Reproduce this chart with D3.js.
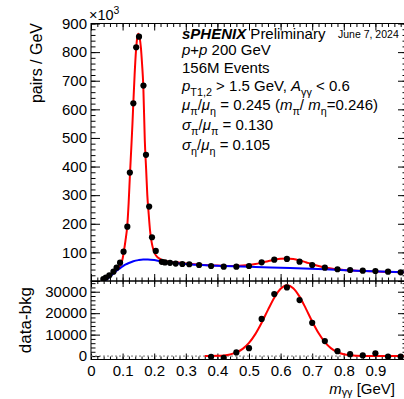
<!DOCTYPE html>
<html><head><meta charset="utf-8">
<script src="https://cdn.jsdelivr.net/npm/d3@7"></script>
<style>body{margin:0;background:#fff}svg text{font-family:"Liberation Sans",Arial,Helvetica,sans-serif}</style>
</head><body><svg id="c" width="404" height="399"></svg>
<script>
// ---------------- data ----------------
// top panel: pairs / GeV in units of 10^3
const massTop = [0.039,0.047,0.058,0.071,0.081,0.092,0.103,0.115,0.123,0.134,0.143,0.152,0.166,0.174,0.184,0.193,0.205,0.224,0.234,0.250,0.268,0.289,0.311,0.342,0.38,0.42,0.46,0.50,0.54,0.58,0.62,0.66,0.70,0.74,0.78,0.82,0.86,0.90,0.94,0.98];
const pairsTop = [7,11.5,20,32.5,46.5,64,102.5,190,379,621,817,854,683,441,260,153,105,67,65,63.5,61,59.5,58.5,56,52.5,50,50,52.5,65.4,74.5,77,67.5,56,46.5,41,38.5,36,35,32.5,30.4];
// background fit (blue)
const bkgMass = [0.042,0.05,0.06,0.07,0.08,0.09,0.10,0.11,0.12,0.134,0.15,0.165,0.18,0.20,0.22,0.26,0.30,0.35,0.42,0.52,0.63,0.74,0.84,0.99];
const bkgValue = [0,6,15,25,35,43,51,58,63,69,73,75,75,73,69,64,59.5,56,52.5,49,45.5,41,36,30.5];
// total fit (red), top panel
const fitTopMass = [0.075,0.08,0.085,0.09,0.095,0.100,0.1035,0.109,0.1149,0.119,0.1234,0.1275,0.131,0.1339,0.138,0.1424,0.146,0.1497,0.154,0.158,0.1615,0.1655,0.1703,0.1745,0.1782,0.1825,0.1867,0.192,0.1972,0.2025,0.2079,0.2158,0.2237,0.235,0.25,0.27,0.30,0.33,0.345,0.36,0.40,0.44,0.46,0.48,0.50,0.52,0.54,0.56,0.58,0.60,0.62,0.64,0.66,0.68,0.70,0.72,0.74,0.76,0.78,0.80,0.82,0.84,0.88,0.92,0.99];
const fitTopValue = [30,36,41,48,60,78,100,140,195,270,375,465,545,621,720,805,848,864,850,815,760,682,490,390,300,235,178,135,110,95,86,79,74,70,66.5,65.5,61.5,58.5,57,55.5,54,52.8,52.8,53.8,55.9,59.2,63.9,69.2,74.3,77.9,78.8,76.8,72.0,65.6,58.7,52.5,47.5,43.6,40.8,38.8,37.4,36.1,34.3,32.7,30.5];
// bottom panel: data - bkg
const massBottom = [0.38,0.42,0.46,0.50,0.54,0.58,0.62,0.66,0.70,0.74,0.78,0.82,0.86,0.90,0.94,0.98];
const diffBottom = [-330,-800,1700,3700,17300,28900,32000,26100,15500,7000,2300,900,300,1300,-300,-300];
// eta fit (red), bottom panel
const fitBotMass = [0.36,0.38,0.40,0.42,0.44,0.46,0.48,0.50,0.52,0.54,0.56,0.58,0.60,0.62,0.64,0.66,0.68,0.70,0.72,0.74,0.76,0.78,0.80,0.82,0.84,0.86,0.88,0.90,0.99];
const fitBotValue = [13,42,122,320,768,1684,3373,6150,10235,15545,21530,27210,31370,33000,31660,27710,22130,16120,10715,6500,3590,1815,836,350,134,47,15,5,0];
// ticks
const xTickValues = [0,0.1,0.2,0.3,0.4,0.5,0.6,0.7,0.8,0.9,1.0];
const xTickLabels = ["0","0.1","0.2","0.3","0.4","0.5","0.6","0.7","0.8","0.9",""];
const yTopTickValues = [0,100,200,300,400,500,600,700,800,900];
const yTopTickLabels = ["","100","200","300","400","500","600","700","800","900"];
const yBotTickValues = [0,10000,20000,30000];
const yBotTickLabels = ["0","10000","20000","30000"];

// ---------------- layout ----------------
const svg = d3.select("#c");
const X0 = 91, X1 = 407, YT = 23.5, YM = 281, YB = 359.5;
const x = d3.scaleLinear().domain([0,1]).range([X0,X1]);
const yTop = d3.scaleLinear().domain([0,900]).range([YM,YT]);
const yBot = d3.scaleLinear().domain([-1600,35000]).range([YB,YM]);
const FONT = '"Liberation Sans",Arial,Helvetica,sans-serif';

const defs = svg.append("defs");
defs.append("clipPath").attr("id","clipTop").append("rect").attr("x",X0).attr("y",YT).attr("width",X1-X0).attr("height",YM-YT);
defs.append("clipPath").attr("id","clipBot").append("rect").attr("x",X0).attr("y",YM).attr("width",X1-X0).attr("height",YB-YM);

// frames
svg.append("rect").attr("x",X0).attr("y",YT).attr("width",X1-X0).attr("height",YM-YT).attr("fill","none").attr("stroke","#000");
svg.append("rect").attr("x",X0).attr("y",YM).attr("width",X1-X0).attr("height",YB-YM).attr("fill","none").attr("stroke","#000");

function fmtFrom(values, labels){ return d => { const i = values.findIndex(v => Math.abs(v-d) < 1e-9); return i>=0 ? labels[i] : ""; }; }
function drawTicks(mk, scale, transform, majors, minors, majLen, minLen, fmt, pad){
  const gMin = svg.append("g").attr("transform",transform)
    .call(mk(scale).tickValues(minors).tickSize(-minLen).tickFormat(""));
  const gMaj = svg.append("g").attr("transform",transform)
    .call(mk(scale).tickValues(majors).tickSize(-majLen).tickPadding(pad||0).tickFormat(fmt || (()=>"")));
  [gMin,gMaj].forEach(g => { g.select(".domain").remove(); g.selectAll("line").attr("stroke","#000"); g.attr("font-family",FONT).attr("font-size",15); g.selectAll("text").attr("fill","#000"); });
}
const xMinor = d3.range(0,51).map(i => i/50);
const yTopMinor = d3.range(0,46).map(i => i*20);
const yBotMinor = d3.range(0,18).map(i => i*2000);

// top panel ticks
drawTicks(d3.axisLeft, yTop, `translate(${X0},0)`, yTopTickValues, yTopMinor, 9, 4.5, fmtFrom(yTopTickValues,yTopTickLabels), 4);
drawTicks(d3.axisRight, yTop, `translate(${X1},0)`, yTopTickValues, yTopMinor, 9, 4.5);
drawTicks(d3.axisBottom, x, `translate(0,${YM})`, xTickValues, xMinor, 7, 3.5);
drawTicks(d3.axisTop, x, `translate(0,${YT})`, xTickValues, xMinor, 7, 3.5);
// bottom panel ticks
drawTicks(d3.axisLeft, yBot, `translate(${X0},0)`, yBotTickValues, yBotMinor, 9, 4.5, fmtFrom(yBotTickValues,yBotTickLabels), 4);
drawTicks(d3.axisRight, yBot, `translate(${X1},0)`, yBotTickValues, yBotMinor, 9, 4.5);
drawTicks(d3.axisTop, x, `translate(0,${YM})`, xTickValues, xMinor, 6, 3);
drawTicks(d3.axisBottom, x, `translate(0,${YB})`, xTickValues, xMinor, 6, 3, fmtFrom(xTickValues,xTickLabels), 6);

// zero line bottom
svg.append("line").attr("x1",x(0)).attr("x2",x(1)).attr("y1",yBot(0)).attr("y2",yBot(0))
  .attr("stroke","#777").attr("stroke-width",1).attr("stroke-dasharray","2,2");

// curves
const gTop = svg.append("g").attr("clip-path","url(#clipTop)");
const gBot = svg.append("g").attr("clip-path","url(#clipBot)");
const lineTop = d3.line().x(d => x(d[0])).y(d => yTop(d[1])).curve(d3.curveMonotoneX);
const lineBot = d3.line().x(d => x(d[0])).y(d => yBot(d[1])).curve(d3.curveMonotoneX);
gTop.append("path").datum(d3.zip(fitTopMass, fitTopValue)).attr("d", lineTop).attr("fill","none").attr("stroke","#ff0000").attr("stroke-width",2);
gTop.append("path").datum(d3.zip(bkgMass, bkgValue)).attr("d", lineTop).attr("fill","none").attr("stroke","#0000ff").attr("stroke-width",2);
gBot.append("path").datum(d3.zip(fitBotMass, fitBotValue)).attr("d", lineBot).attr("fill","none").attr("stroke","#ff0000").attr("stroke-width",2);

// points
gTop.selectAll("circle").data(d3.zip(massTop,pairsTop)).join("circle")
  .attr("cx", d => x(d[0])).attr("cy", d => yTop(d[1])).attr("r",3.1).attr("fill","#000");
gBot.selectAll("circle").data(d3.zip(massBottom,diffBottom)).join("circle")
  .attr("cx", d => x(d[0])).attr("cy", d => yBot(d[1])).attr("r",3.1).attr("fill","#000");

// rich text helper
function rich(px, py, size, parts, subShift){
  const t = svg.append("text").attr("x",px).attr("y",py).attr("font-size",size).attr("font-family",FONT).attr("fill","#000");
  let off = 0;
  const sub = subShift == null ? 0.3 : subShift;
  parts.forEach(p => {
    const s = t.append("tspan").text(p.t);
    let target = 0;
    if (p.sub) { target = size*sub; s.attr("font-size", size*0.72); }
    if (p.sup) { target = -size*0.42; s.attr("font-size", size*0.72); }
    if (target !== off) { s.attr("dy", target - off); off = target; }
    if (p.i) s.attr("font-style","italic");
    if (p.b) s.attr("font-weight","bold");
  });
  return t;
}

// axis titles
svg.append("text").attr("transform","translate(42,23) rotate(-90)").attr("text-anchor","end")
  .attr("font-size",16).attr("font-family",FONT).text("pairs / GeV");
svg.append("text").attr("transform","translate(30.5,287) rotate(-90)").attr("text-anchor","end")
  .attr("font-size",17).attr("font-family",FONT).text("data-bkg");
rich(89, 20, 14.5, [{t:"×10"},{t:"3",sup:true}]);
const xt = rich(0, 394, 15, [{t:"m",i:true},{t:"γγ",sub:true},{t:" [GeV]"}], 0.12);
xt.attr("x", 395).attr("text-anchor","end");

// header / legend text
const L = 182, FS = 15;
rich(L, 39, FS, [{t:"sPHENIX",b:true,i:true},{t:" Preliminary"}]);
rich(338, 38, 10.5, [{t:"June 7, 2024"}]);
rich(L, 55, FS, [{t:"p",i:true},{t:"+"},{t:"p",i:true},{t:" 200 GeV"}]);
rich(L, 73, FS, [{t:"156M Events"}]);
rich(L, 91, FS, [{t:"p",i:true},{t:"T1,2",sub:true},{t:" > 1.5 GeV, "},{t:"A",i:true},{t:"γγ",sub:true},{t:" < 0.6"}]);
rich(L, 110, FS, [{t:"μ",i:true},{t:"π",sub:true},{t:"/"},{t:"μ",i:true},{t:"η",sub:true},{t:" = 0.245 ("},{t:"m",i:true},{t:"π",sub:true},{t:"/ "},{t:"m",i:true},{t:"η",sub:true},{t:"=0.246)"}]);
rich(L, 130, FS, [{t:"σ",i:true},{t:"π",sub:true},{t:"/"},{t:"μ",i:true},{t:"π",sub:true},{t:" = 0.130"}]);
rich(L, 150, FS, [{t:"σ",i:true},{t:"η",sub:true},{t:"/"},{t:"μ",i:true},{t:"η",sub:true},{t:" = 0.105"}]);
</script></body></html>
